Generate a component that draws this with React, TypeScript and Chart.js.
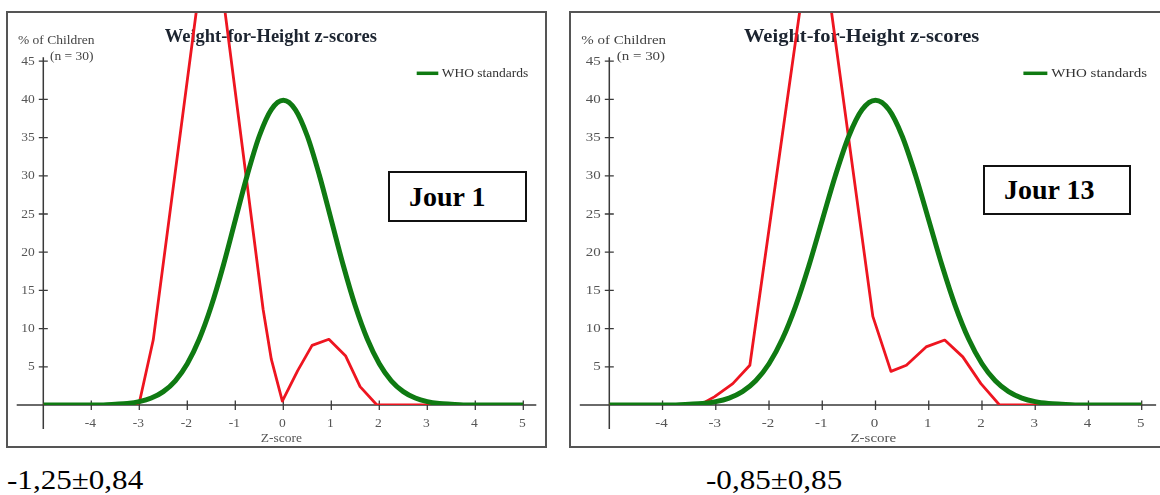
import React, { useEffect, useRef } from "react";
import { Chart, registerables } from "chart.js";
Chart.register(...registerables);

// ---- tick labels ----
const X_TICKS = [-4, -3, -2, -1, 0, 1, 2, 3, 4, 5];
const Y_TICKS = [5, 10, 15, 20, 25, 30, 35, 40, 45];

// ---- WHO standards curve ----
const WHO_Z = [
  -5, -4.75, -4.5, -4.25, -4, -3.75, -3.5, -3.25, -3, -2.75, -2.5, -2.25, -2, -1.75, -1.5, -1.25, -1, -0.75, -0.5, -0.25,
  0, 0.25, 0.5, 0.75, 1, 1.25, 1.5, 1.75, 2, 2.25, 2.5, 2.75, 3, 3.25, 3.5, 3.75, 4, 4.25, 4.5, 4.75, 5,
];
const WHO_PCT = [
  0, 0, 0, 0, 0, 0, 0.09, 0.2, 0.44, 0.91, 1.75, 3.17, 5.4, 8.63, 12.95, 18.26, 24.2, 30.11, 35.21, 38.67,
  39.89, 38.67, 35.21, 30.11, 24.2, 18.26, 12.95, 8.63, 5.4, 3.17, 1.75, 0.91, 0.44, 0.2, 0.09, 0, 0, 0, 0, 0, 0,
];

// ---- Jour 1 sample ----
const DAY1_Z = [-5, -3.1, -3.0, -2.71, -1.51, -0.42, -0.25, -0.02, 0.3, 0.6, 0.95, 1.3, 1.6, 1.95, 5];
const DAY1_PCT = [0, 0, 0.3, 8.5, 66, 12.5, 6, 0.5, 4.5, 7.8, 8.6, 6.4, 2.4, 0, 0];

// ---- Jour 13 sample ----
const DAY13_Z = [-5, -3.3, -3.02, -2.68, -2.36, -1.12, -0.05, 0.29, 0.58, 0.95, 1.3, 1.64, 1.98, 2.33, 5];
const DAY13_PCT = [0, 0, 1.1, 2.8, 5.2, 66.5, 11.6, 4.4, 5.2, 7.6, 8.5, 6.3, 2.8, 0, 0];

const TITLE = "Weight-for-Height z-scores";
const LEGEND = "WHO standards";
const Y_TITLE_1 = "% of Children";
const Y_TITLE_2 = "(n = 30)";
const X_TITLE = "Z-score";

const GREEN = "#0f7a12";
const RED = "#ee1520";
const SERIF = '"Liberation Serif", "Times New Roman", serif';

function txt(ctx: any, s: string, x: number, y: number, font: string, color: string, align: string, hs: number) {
  ctx.save();
  ctx.translate(x, y);
  ctx.scale(hs, 1);
  ctx.font = font;
  ctx.fillStyle = color;
  ctx.textAlign = align;
  ctx.textBaseline = "middle";
  ctx.fillText(s, 0, 0);
  ctx.restore();
}

const decorPlugin = {
  id: "decor",
  beforeDatasetsDraw(chart: any, _args: any, opts: any) {
    const { ctx, scales } = chart;
    const xs = scales.x;
    const ys = scales.y;
    const hs = opts.hs || 1;
    const x0 = xs.getPixelForValue(-5);
    const x5 = xs.getPixelForValue(5);
    const y0 = ys.getPixelForValue(0);
    const y45 = ys.getPixelForValue(45);
    const small = `13.5px ${SERIF}`;

    ctx.save();
    ctx.strokeStyle = "#3a3a3a";
    ctx.lineWidth = 1.5;
    ctx.beginPath();
    ctx.moveTo(x0 - 26.6 * hs, y0);
    ctx.lineTo(x5 + 13 * hs, y0);
    ctx.moveTo(x0, y45 - 4);
    ctx.lineTo(x0, y0 + 24);
    ctx.stroke();
    ctx.lineWidth = 1.3;
    ctx.beginPath();
    for (const t of xs.ticks) {
      const px = xs.getPixelForValue(t.value);
      ctx.moveTo(px, y0 - 4.5);
      ctx.lineTo(px, y0 + 5);
    }
    for (const t of ys.ticks) {
      const py = ys.getPixelForValue(t.value);
      ctx.moveTo(x0 - 4.5, py);
      ctx.lineTo(x0 + 4.5, py);
    }
    ctx.stroke();
    ctx.restore();

    for (const t of xs.ticks) {
      const px = xs.getPixelForValue(t.value);
      txt(ctx, String(t.value), px - 1, y0 + 18, small, "#555", "center", hs);
    }
    for (const t of ys.ticks) {
      const py = ys.getPixelForValue(t.value);
      txt(ctx, String(t.value), x0 - 8.5, py, small, "#555", "right", hs);
    }

    // axis titles
    txt(ctx, Y_TITLE_1, x0 - 25.3 * hs, 27, small, "#444", "left", hs);
    txt(ctx, Y_TITLE_2, x0 + 6.7 * hs, 43.5, small, "#444", "left", hs);
    txt(ctx, X_TITLE, xs.getPixelForValue(0) - 2 * hs, y0 + 33.5, small, "#555", "center", hs);

    // title
    txt(ctx, TITLE, x0 + 227.5 * hs, 24, `bold 18.5px ${SERIF}`, "#1c2430", "center", hs);

    // legend
    ctx.save();
    ctx.strokeStyle = GREEN;
    ctx.lineWidth = 3.5;
    ctx.beginPath();
    ctx.moveTo(x0 + 373.4 * hs, 60.3);
    ctx.lineTo(x0 + 395 * hs, 60.3);
    ctx.stroke();
    ctx.restore();
    txt(ctx, LEGEND, x0 + 398.4 * hs, 60.5, `13.5px ${SERIF}`, "#333", "left", hs);
  },
};

function pts(xsArr: number[], ysArr: number[]) {
  return xsArr.map((x, i) => ({ x, y: ysArr[i] }));
}

type PanelProps = {
  left: number;
  top: number;
  outerW: number;
  outerH: number;
  plotLeft: number;
  padRight: number;
  hs: number;
  zs: number[];
  pcts: number[];
};

function Panel(p: PanelProps) {
  const ref = useRef<HTMLCanvasElement | null>(null);
  const innerW = p.outerW - 4;
  const innerH = p.outerH - 4;
  useEffect(() => {
    if (!ref.current) return;
    const axisY = 392;
    const yPerUnit = 7.64;
    const chart = new Chart(ref.current, {
      type: "line",
      data: {
        datasets: [
          {
            label: LEGEND,
            data: pts(WHO_Z, WHO_PCT),
            borderColor: GREEN,
            borderWidth: 5,
            pointRadius: 0,
            cubicInterpolationMode: "monotone",
            fill: false,
            order: 0,
          } as any,
          {
            label: "sample",
            data: pts(p.zs, p.pcts),
            borderColor: RED,
            borderWidth: 2.8,
            pointRadius: 0,
            tension: 0,
            borderJoinStyle: "round",
            fill: false,
            order: 1,
          } as any,
        ],
      },
      options: {
        animation: false,
        responsive: false,
        maintainAspectRatio: false,
        events: [],
        layout: { padding: { left: 0, right: p.padRight, top: 0, bottom: 0 } },
        scales: {
          x: {
            type: "linear",
            min: -5,
            max: 5,
            afterBuildTicks: (s: any) => {
              s.ticks = X_TICKS.map((v) => ({ value: v }));
            },
            afterFit: (s: any) => {
              s.height = innerH - axisY;
            },
            ticks: { display: false },
            grid: { display: false },
            border: { display: false },
          },
          y: {
            type: "linear",
            min: 0,
            max: axisY / yPerUnit,
            afterBuildTicks: (s: any) => {
              s.ticks = Y_TICKS.map((v) => ({ value: v }));
            },
            afterFit: (s: any) => {
              s.width = p.plotLeft;
            },
            ticks: { display: false },
            grid: { display: false },
            border: { display: false },
          },
        },
        plugins: {
          legend: { display: false },
          tooltip: { enabled: false },
          decor: { hs: p.hs },
        } as any,
      },
      plugins: [decorPlugin as any],
    });
    return () => chart.destroy();
  }, []);
  return (
    <div
      style={{
        position: "absolute",
        left: p.left,
        top: p.top,
        width: p.outerW,
        height: p.outerH,
        boxSizing: "border-box",
        border: "2px solid #555",
        background: "#fff",
      }}
    >
      <canvas ref={ref} width={innerW} height={innerH} style={{ display: "block", width: innerW, height: innerH }} />
    </div>
  );
}

function JourBox(props: { left: number; top: number; w: number; h: number; label: string }) {
  return (
    <div
      style={{
        position: "absolute",
        left: props.left,
        top: props.top,
        width: props.w,
        height: props.h,
        boxSizing: "border-box",
        border: "2px solid #111",
        background: "#fff",
        fontFamily: SERIF,
        fontWeight: "bold",
        fontSize: 28,
        lineHeight: `${props.h - 4}px`,
        paddingLeft: 19,
        color: "#000",
        whiteSpace: "nowrap",
      }}
    >
      {props.label}
    </div>
  );
}

const STAT_1 = "-1,25\u00b10,84";
const STAT_13 = "-0,85\u00b10,85";

const statStyle = (left: number): React.CSSProperties => ({
  position: "absolute",
  left,
  top: 466,
  fontFamily: SERIF,
  fontSize: 28,
  lineHeight: "28px",
  color: "#000",
  whiteSpace: "nowrap",
  transform: "scaleX(1.11)",
  transformOrigin: "left top",
});

export default function App() {
  return (
    <div
      style={{
        position: "absolute",
        left: 0,
        top: 0,
        width: 1160,
        height: 495,
        overflow: "hidden",
        background: "#fff",
      }}
    >
      <Panel left={6} top={11} outerW={541} outerH={437} plotLeft={35.3} padRight={21.7} hs={1} zs={DAY1_Z} pcts={DAY1_PCT} />
      <Panel left={569} top={11} outerW={596} outerH={437} plotLeft={38.3} padRight={21.3} hs={1.109} zs={DAY13_Z} pcts={DAY13_PCT} />
      <JourBox left={388} top={171} w={139} h={51} label="Jour 1" />
      <JourBox left={983} top={165} w={148} h={50} label="Jour 13" />
      <div style={statStyle(7)}>{STAT_1}</div>
      <div style={statStyle(706)}>{STAT_13}</div>
    </div>
  );
}
